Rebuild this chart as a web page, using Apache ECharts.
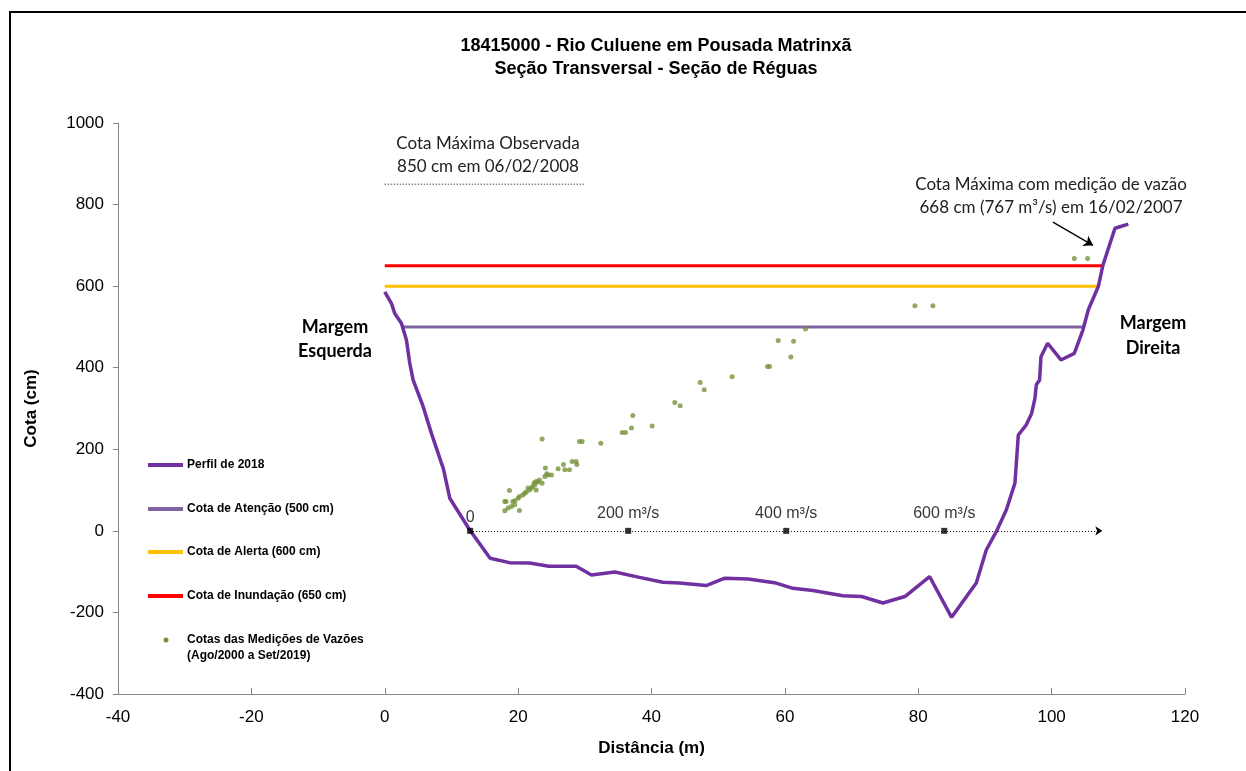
<!DOCTYPE html>
<html>
<head>
<meta charset="utf-8">
<script src="https://cdn.jsdelivr.net/npm/echarts@6/dist/echarts.min.js"></script>
<style>
html,body{margin:0;padding:0;background:#fff;}
#chart{width:1246px;height:771px;}
</style>
</head>
<body>
<div id="chart"></div>
<script>
// ---- Data ----
var titleLines = ['18415000 - Rio Culuene em Pousada Matrinxã', 'Seção Transversal - Seção de Réguas'];
var xTicks = { min: -40, max: 120, interval: 20 };
var yTicks = { min: -400, max: 1000, interval: 200 };

// Perfil de 2018 (distance m, cota cm)
var profileX = [0, 1.0, 1.5, 2.5, 3.25, 3.75, 4.25, 5.75, 7.0, 8.5, 8.8, 9.75, 12.75, 15.8, 18.7, 21.7, 24.6, 28.7, 31.0, 34.5, 38.2, 41.7, 44.2, 48.2, 51.0, 54.5, 58.7, 61.2, 64.2, 68.7, 71.5, 74.7, 78.0, 81.7, 85.0, 88.7, 90.2, 91.7, 93.2, 94.5, 95.0, 96.2, 97.0, 97.5, 97.7, 98.2, 98.4, 99.4, 101.4, 103.4, 104.7, 105.5, 107.0, 107.7, 109.5, 111.5];
var profileY = [586, 558, 533, 509, 468, 411, 370, 305, 239, 166, 152, 80, 2, -67, -78, -79, -87, -87, -108, -101, -114, -126, -128, -134, -116, -118, -128, -141, -146, -159, -161, -177, -161, -112, -212, -128, -47, -2, 51, 117, 235, 260, 288, 325, 358, 370, 427, 460, 419, 435, 493, 542, 599, 652, 742, 752];

// Cotas de referência
var refNames = ['Cota de Atenção (500 cm)', 'Cota de Alerta (600 cm)', 'Cota de Inundação (650 cm)'];
var refLevels = [500, 600, 650];
var refStartX = [2.7, 0, 0];
var refEndX = [104.7, 107.0, 107.7];

// Cotas das medições de vazões
var measX = [18.0, 18.2, 18.5, 18.0, 18.7, 19.0, 19.2, 19.5, 19.5, 20.2, 20.0, 20.2, 20.7, 21.0, 21.2, 21.5, 21.7, 22.0, 22.2, 22.4, 22.5, 22.7, 22.7, 23.0, 23.2, 23.6, 23.6, 24.0, 24.1, 24.3, 24.5, 25.0, 26.0, 26.8, 27.0, 27.7, 28.1, 28.7, 28.8, 29.2, 29.6, 32.4, 35.6, 36.1, 37.0, 37.2, 40.1, 43.5, 44.3, 47.3, 47.9, 52.1, 57.4, 57.7, 59.0, 60.9, 61.3, 63.1, 79.5, 82.2, 103.4, 105.4];
var measY = [72, 72, 56, 49, 99, 60, 72, 64, 74, 50, 80, 84, 88, 92, 95, 105, 100, 105, 109, 118, 113, 121, 100, 120, 125, 117, 225, 133, 154, 140, 137, 137, 152, 163, 150, 150, 170, 170, 163, 219, 219, 215, 241, 241, 252, 283, 257, 315, 307, 364, 346, 378, 403, 403, 467, 426, 465, 495, 552, 552, 668, 668];

// Escala de vazão sobre a cota zero
var flowTickX = [12.8, 36.5, 60.2, 83.9];
var flowTickLabels = ['0', '200 m³/s', '400 m³/s', '600 m³/s'];
var flowAxisEndX = 107.6;

// Cota máxima observada
var maxObsLevel = 850;
var maxObsStartX = 0;
var maxObsEndX = 30;
var maxObsText = ['Cota Máxima Observada', '850 cm em 06/02/2008'];
var maxMeasText = ['Cota Máxima com medição de vazão', '668 cm (767 m³/s) em 16/02/2007'];
var maxMeasArrow = [[100.2, 757], [106.2, 700]];

var bankLeft = ['Margem', 'Esquerda'];
var bankRight = ['Margem', 'Direita'];

var legendNames = ['Perfil de 2018', refNames[0], refNames[1], refNames[2], 'Cotas das Medições de Vazões'];
var legendSecondLine = '(Ago/2000 a Set/2019)';
var colors = { profile: '#7030A0', atencao: '#8064A2', alerta: '#FFC000', inundacao: '#FF0000', meas: '#77933C' };

// ---- Build ----
var chart = echarts.init(document.getElementById('chart'), null, { renderer: 'canvas' });

function zip(a, b) { return a.map(function (v, i) { return [v, b[i]]; }); }

var refColors = [colors.atencao, colors.alerta, colors.inundacao];
var refSeries = refNames.map(function (n, i) {
  return {
    name: n, type: 'line', symbol: 'none', z: 3,
    data: [[refStartX[i], refLevels[i]], [refEndX[i], refLevels[i]]],
    lineStyle: { color: refColors[i], width: 3 }, itemStyle: { color: refColors[i] }
  };
});

var legendTops = [459, 503, 546, 590, 634];
var legends = legendNames.map(function (n, i) {
  var d = { name: n, icon: 'rect' };
  if (i === 4) { d.itemStyle = { opacity: 0 }; }
  return {
    data: [d],
    left: 148, top: legendTops[i], orient: 'vertical',
    itemWidth: 35, itemHeight: 4, itemGap: 0, padding: 0,
    textStyle: { fontFamily: 'Arial, "Liberation Sans"', fontWeight: 'bold', fontSize: 12, color: '#000', padding: [0, 0, 0, -1] },
    selectedMode: false
  };
});

var option = {
  backgroundColor: '#fff',
  animation: false,
  title: {
    text: titleLines.join('\n'),
    left: 651, top: 30, textAlign: 'center',
    textStyle: { fontFamily: 'Arial, "Liberation Sans"', fontWeight: 'bold', fontSize: 18, lineHeight: 23, color: '#000' }
  },
  legend: legends,
  grid: { left: 118, right: 61, top: 123, bottom: 77, containLabel: false },
  xAxis: {
    type: 'value', min: xTicks.min, max: xTicks.max, interval: xTicks.interval,
    name: 'Distância (m)', nameLocation: 'middle', nameGap: 46,
    nameTextStyle: { fontFamily: 'Arial, "Liberation Sans"', fontWeight: 'bold', fontSize: 17, color: '#000' },
    axisLine: { show: true, onZero: false, lineStyle: { color: '#868686', width: 1 } },
    axisTick: { show: true, inside: true, length: 6, lineStyle: { color: '#868686' } },
    axisLabel: { fontFamily: 'Arial, "Liberation Sans"', fontSize: 17, color: '#000', margin: 15, formatter: function (v) { return String(v); } },
    splitLine: { show: false }
  },
  yAxis: {
    type: 'value', min: yTicks.min, max: yTicks.max, interval: yTicks.interval,
    name: 'Cota (cm)', nameLocation: 'middle', nameGap: 78, nameRotate: 90,
    nameTextStyle: { fontFamily: 'Arial, "Liberation Sans"', fontWeight: 'bold', fontSize: 17, color: '#000' },
    axisLine: { show: true, onZero: false, lineStyle: { color: '#868686', width: 1 } },
    axisTick: { show: true, inside: false, length: 5, lineStyle: { color: '#868686' } },
    axisLabel: { fontFamily: 'Arial, "Liberation Sans"', fontSize: 17, color: '#000', margin: 14, formatter: function (v) { return String(v); } },
    splitLine: { show: false }
  },
  series: [
    {
      name: 'cota máxima observada', type: 'line', symbol: 'none', z: 2, silent: true,
      data: [[maxObsStartX, maxObsLevel], [maxObsEndX, maxObsLevel]],
      lineStyle: { color: '#000', width: 1, type: [1, 2] }
    },
    {
      name: 'escala de vazão', type: 'lines', coordinateSystem: 'cartesian2d', z: 2, silent: true,
      symbol: ['none', 'arrow'], symbolSize: 7,
      data: [{ coords: [[flowTickX[0], 0], [flowAxisEndX, 0]] }],
      lineStyle: { color: '#000', width: 1, type: [1, 2], opacity: 1 }
    },
    {
      name: 'marcas de vazão', type: 'scatter', symbol: 'rect', symbolSize: 6, z: 6, silent: true,
      data: flowTickX.map(function (x, i) { return { value: [x, 0], label: { offset: i === 0 ? [0, 4] : [0, 0] } }; }),
      itemStyle: { color: '#000' },
      label: {
        show: true, position: 'top', distance: 6,
        formatter: function (p) { return flowTickLabels[p.dataIndex]; },
        fontFamily: 'Arial, "Liberation Sans"', fontSize: 16, color: '#000'
      }
    },
    {
      name: 'seta', type: 'lines', coordinateSystem: 'cartesian2d', z: 6, silent: true,
      symbol: ['none', 'arrow'], symbolSize: 9,
      data: [{ coords: maxMeasArrow }],
      lineStyle: { color: '#000', width: 1.3, opacity: 1 }
    },
    refSeries[0], refSeries[1], refSeries[2],
    {
      name: legendNames[0], type: 'line', symbol: 'none', z: 5,
      data: zip(profileX, profileY),
      lineStyle: { color: colors.profile, width: 3.5 }, itemStyle: { color: colors.profile }
    },
    {
      name: legendNames[4], type: 'scatter', symbol: 'circle', symbolSize: 5, z: 7,
      data: zip(measX, measY),
      itemStyle: { color: colors.meas }
    }
  ],
  graphic: [
    { type: 'rect', shape: { x: 10, y: 12, width: 1400, height: 900 }, style: { fill: 'none', stroke: '#000', lineWidth: 2 }, silent: true, z: -1 },
    { type: 'circle', shape: { cx: 166, cy: 640, r: 2.5 }, style: { fill: colors.meas }, silent: true },
    { type: 'text', left: 187, top: 650, style: { text: legendSecondLine, font: 'bold 12px Arial, "Liberation Sans"', fill: '#000' } },
    { type: 'text', x: 488, y: 155, style: { text: maxObsText.join('\n'), font: '17px Lato, "Open Sans"', lineHeight: 23, fill: '#222', align: 'center', verticalAlign: 'middle' } },
    { type: 'text', x: 1051, y: 196, style: { text: maxMeasText.join('\n'), font: '17px Lato, "Open Sans"', lineHeight: 23, fill: '#222', align: 'center', verticalAlign: 'middle' } },
    { type: 'text', x: 335, y: 339, style: { text: bankLeft.join('\n'), font: 'bold 18px Lato, "Open Sans"', lineHeight: 24, fill: '#000', align: 'center', verticalAlign: 'middle' } },
    { type: 'text', x: 1153, y: 336, style: { text: bankRight.join('\n'), font: 'bold 18px Lato, "Open Sans"', lineHeight: 25, fill: '#000', align: 'center', verticalAlign: 'middle' } }
  ]
};
chart.setOption(option);
</script>
</body>
</html>
